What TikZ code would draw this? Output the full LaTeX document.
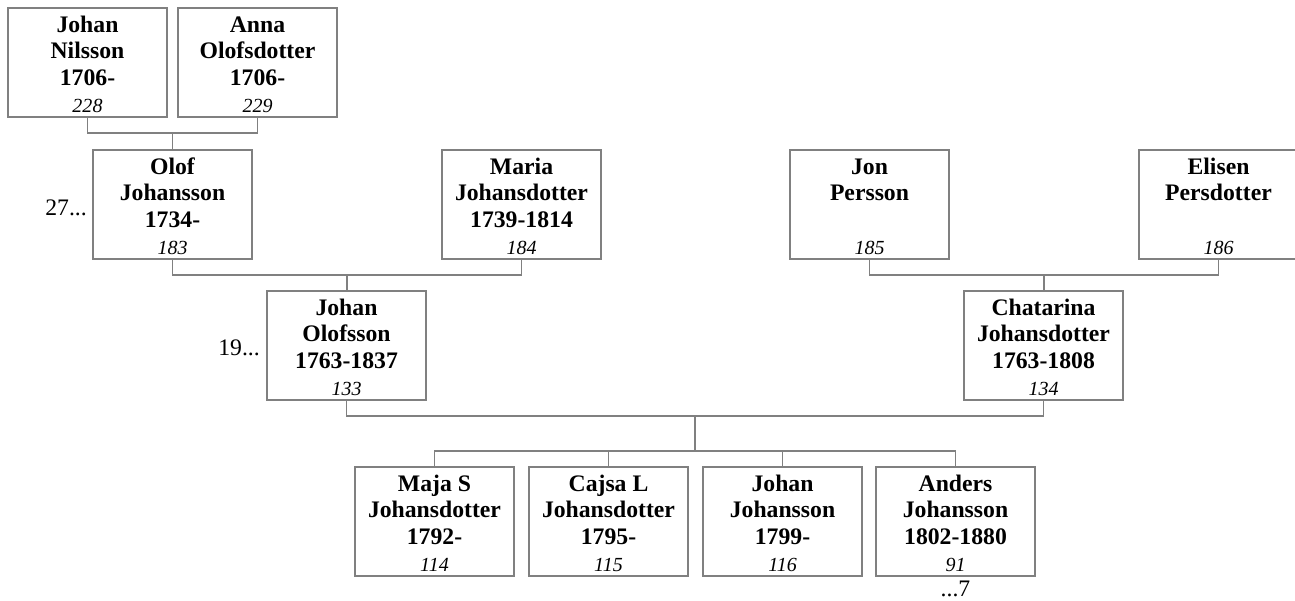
\documentclass[tikz,border=0pt]{standalone}
\usepackage{fontspec}
\setmainfont{Liberation Serif}
\usetikzlibrary{calc}
\definecolor{linegray}{RGB}{128,128,128}
\newcommand{\pbx}[4]{\parbox[c][109pt][t]{159pt}{\centering\fontsize{23.7}{26.7}\selectfont\bfseries\rule{0pt}{24pt}#1\\#2\\\mbox{}#3\\{\mdseries\itshape\fontsize{20}{26.7}\selectfont #4}}}
\tikzset{
  pbox/.style={draw=linegray, line width=1.3pt, fill=white, inner sep=0pt, outer sep=0pt,
    minimum width=159pt, minimum height=109pt, anchor=north west},
  conn/.style={draw=linegray, line width=1.3pt},
  side/.style={font=\fontsize{23.7}{26.7}\selectfont, inner sep=0pt}
}
\begin{document}
\begin{tikzpicture}[x=1pt,y=-1pt]
\useasboundingbox (0,0) rectangle (1295,600);
% generation 4
\node[pbox] (n228) at (8,8)   {\pbx{Johan}{Nilsson}{1706-}{228}};
\node[pbox] (n229) at (178,8) {\pbx{Anna}{Olofsdotter}{1706-}{229}};
% generation 3
\node[pbox] (n183) at (93,150)   {\pbx{Olof}{Johansson}{1734-}{183}};
\node[pbox] (n184) at (442,150)  {\pbx{Maria}{Johansdotter}{1739-1814}{184}};
\node[pbox] (n185) at (790,150)  {\pbx{Jon}{Persson}{}{185}};
\node[pbox] (n186) at (1139,150) {\pbx{Elisen}{Persdotter}{}{186}};
% generation 2
\node[pbox] (n133) at (267,291) {\pbx{Johan}{Olofsson}{1763-1837}{133}};
\node[pbox] (n134) at (964,291) {\pbx{Chatarina}{Johansdotter}{1763-1808}{134}};
% children
\node[pbox] (n114) at (355,467) {\pbx{Maja S}{Johansdotter}{1792-}{114}};
\node[pbox] (n115) at (529,467) {\pbx{Cajsa L}{Johansdotter}{1795-}{115}};
\node[pbox] (n116) at (703,467) {\pbx{Johan}{Johansson}{1799-}{116}};
\node[pbox] (n91)  at (876,467) {\pbx{Anders}{Johansson}{1802-1880}{91}};
% side labels
\node[side, anchor=base east] (s27) at (87,215) {27...};
\node[side, anchor=base east] (s19) at (260,355) {19...};
\node[side, anchor=base] (s7) at (n91.south |- 0,596) {...7};
% connectors
\draw[conn] (n228.south) -- ++(0,16) -| (n229.south);
\coordinate (c1) at ($(n228.south)!0.5!(n229.south)+(0,16)$);
\draw[conn] (c1) -- (c1 |- n183.north);

\draw[conn] (n183.south) -- ++(0,16) -| (n184.south);
\coordinate (c2) at ($(n183.south)!0.5!(n184.south)+(0,16)$);
\draw[conn] (c2) -- (c2 |- n133.north);

\draw[conn] (n185.south) -- ++(0,16) -| (n186.south);
\coordinate (c3) at ($(n185.south)!0.5!(n186.south)+(0,16)$);
\draw[conn] (c3) -- (c3 |- n134.north);

\draw[conn] (n133.south) -- ++(0,16) -| (n134.south);
\coordinate (c4) at ($(n133.south)!0.5!(n134.south)+(0,16)$);
\coordinate (c5) at ($(c4)+(0,35)$);
\draw[conn] (c4) -- (c5);
\draw[conn] (n114.north) -- ++(0,-16) -| (n91.north);
\draw[conn] (n115.north) -- ++(0,-16);
\draw[conn] (n116.north) -- ++(0,-16);
\end{tikzpicture}
\end{document}
